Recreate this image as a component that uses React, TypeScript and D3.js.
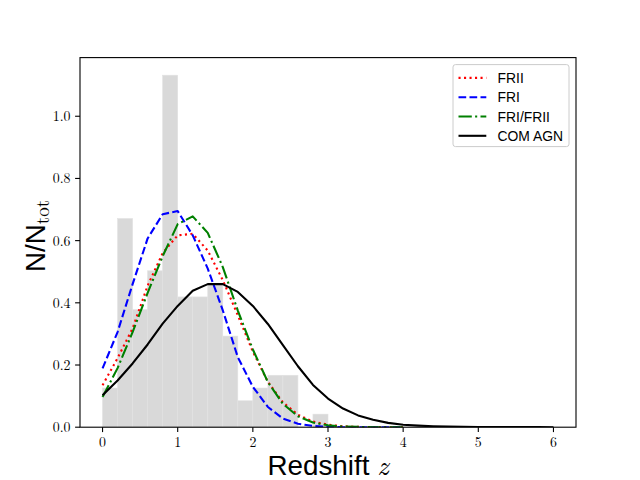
import React from "react";
import { scaleLinear, line } from "d3";

// histogram of the sample, bin width 0.2
const binStarts = [0, 0.2, 0.4, 0.6, 0.8, 1.0, 1.2, 1.4, 1.6, 1.8, 2.0, 2.2, 2.4, 2.6, 2.8];
const binHeights = [0.126, 0.671, 0.378, 0.503, 1.132, 0.419, 0.419, 0.459, 0.293, 0.085, 0.126, 0.167, 0.167, 0, 0.042];
const binWidth = 0.2;

// model curves sampled on the redshift grid
const zModel = [0, 0.2, 0.4, 0.6, 0.8, 1.0, 1.2, 1.4, 1.6, 1.8, 2.0, 2.2, 2.4, 2.6, 2.8, 3.0, 3.2, 3.4, 3.6, 3.8, 4.0];
const friiValues = [0.135, 0.222, 0.318, 0.455, 0.56, 0.617, 0.622, 0.568, 0.473, 0.36, 0.243, 0.146, 0.08, 0.04, 0.018, 0.008, 0.003, 0.001, 0, 0, 0];
const friValues = [0.189, 0.306, 0.46, 0.607, 0.685, 0.695, 0.617, 0.51, 0.376, 0.225, 0.13, 0.065, 0.028, 0.011, 0.004, 0.001, 0, 0, 0, 0, 0];
const mixValues = [0.097, 0.19, 0.306, 0.432, 0.55, 0.653, 0.678, 0.625, 0.515, 0.375, 0.25, 0.145, 0.075, 0.035, 0.015, 0.006, 0.002, 0.001, 0, 0, 0];

const zAgn = [0, 0.2, 0.4, 0.6, 0.8, 1.0, 1.2, 1.4, 1.6, 1.8, 2.0, 2.2, 2.4, 2.6, 2.8, 3.0, 3.2, 3.4, 3.6, 3.8, 4.0, 4.2, 4.4, 4.6, 4.8, 5.0, 5.2, 5.4, 5.6, 5.8, 6.0];
const agnValues = [0.103, 0.15, 0.205, 0.266, 0.333, 0.39, 0.439, 0.46, 0.46, 0.435, 0.39, 0.332, 0.264, 0.196, 0.136, 0.092, 0.06, 0.038, 0.024, 0.014, 0.008, 0.005, 0.003, 0.002, 0.001, 0.0005, 0.0003, 0.0002, 0.0001, 0.0001, 0];

const xTicks = [0, 1, 2, 3, 4, 5, 6];
const yTicks = [0, 0.2, 0.4, 0.6, 0.8, 1.0];

const seriesNames = ["FRII", "FRI", "FRI/FRII", "COM AGN"];
const seriesColors = ["#ff0000", "#0000ff", "#008000", "#000000"];
const seriesDash = ["2.1,3.4", "7.7,3.3", "13.3,3.3,2.1,3.3", "none"];

const W = 640;
const H = 480;
const left = 80;
const right = 576;
const top = 57.6;
const bottom = 427.2;

const serif = "'Latin Modern Roman', 'DejaVu Serif', 'Liberation Serif', serif";
const sans = "'Liberation Sans', Arial, sans-serif";

export default function App() {
  const x = scaleLinear().domain([-0.3, 6.3]).range([left, right]);
  const y = scaleLinear().domain([0, 1.1886]).range([bottom, top]);

  const mk = (zs: number[], vs: number[]) =>
    line<number>()
      .x((_, i) => x(zs[i]))
      .y((v) => y(v))(vs) || "";

  const paths = [
    mk(zModel, friiValues),
    mk(zModel, friValues),
    mk(zModel, mixValues),
    mk(zAgn, agnValues),
  ];

  const legX = 453;
  const legY = 64.6;

  return (
    <svg
      width={W}
      height={H}
      style={{ position: "absolute", left: 0, top: 0, background: "#fff" }}
    >
      <defs>
        <clipPath id="plot">
          <rect x={left} y={top} width={right - left} height={bottom - top} />
        </clipPath>
      </defs>
      <g>
        {binStarts.map((b, i) =>
          binHeights[i] > 0 ? (
            <rect
              key={i}
              x={x(b)}
              y={y(binHeights[i])}
              width={x(b + binWidth) - x(b)}
              height={y(0) - y(binHeights[i])}
              fill="#d9d9d9"
              stroke="#e2e2e2"
              strokeWidth={0.6}
            />
          ) : null
        )}
      </g>
      <g clipPath="url(#plot)" fill="none" strokeWidth={2.1}>
        {paths.map((d, i) => (
          <path
            key={i}
            d={d}
            stroke={seriesColors[i]}
            strokeDasharray={seriesDash[i]}
            strokeLinecap="butt"
            strokeLinejoin="round"
          />
        ))}
      </g>
      {/* axes frame */}
      <rect
        x={left}
        y={top}
        width={right - left}
        height={bottom - top}
        fill="none"
        stroke="#000"
        strokeWidth={1.1}
      />
      {xTicks.map((t) => (
        <g key={t} transform={`translate(${x(t)},${bottom})`}>
          <line y2={4.9} stroke="#000" strokeWidth={1.1} />
          <text
            y={20}
            textAnchor="middle"
            fontFamily={serif}
            fontSize={13.9}
            fill="#000"
          >
            {t}
          </text>
        </g>
      ))}
      {yTicks.map((t) => (
        <g key={t} transform={`translate(${left},${y(t)})`}>
          <line x2={-4.9} stroke="#000" strokeWidth={1.1} />
          <text
            x={-9.5}
            dy="0.35em"
            textAnchor="end"
            fontFamily={serif}
            fontSize={13.9}
            fill="#000"
          >
            {t.toFixed(1)}
          </text>
        </g>
      ))}
      {/* axis labels */}
      <text
        x={(left + right) / 2}
        y={475}
        textAnchor="middle"
        fontFamily={sans}
        fontSize={27.8}
        fill="#000"
      >
        Redshift{" "}
        <tspan fontFamily={serif} fontStyle="italic">
          z
        </tspan>
      </text>
      <text
        transform={`translate(45,236) rotate(-90)`}
        textAnchor="middle"
        fontFamily={sans}
        fontSize={27.8}
        fill="#000"
      >
        N/N
        <tspan fontFamily={serif} fontSize={19} dy={4}>
          tot
        </tspan>
      </text>
      {/* legend */}
      <rect
        x={legX}
        y={legY}
        width={116}
        height={82}
        rx={2.5}
        fill="#fff"
        fillOpacity={0.8}
        stroke="#cccccc"
        strokeWidth={1}
      />
      {seriesNames.map((name, i) => {
        const cy = legY + 13.3 + i * 19.3;
        return (
          <g key={name}>
            <line
              x1={legX + 5.5}
              x2={legX + 33.3}
              y1={cy}
              y2={cy}
              stroke={seriesColors[i]}
              strokeWidth={2.1}
              strokeDasharray={seriesDash[i]}
              strokeLinecap="butt"
            />
            <text
              x={legX + 44.5}
              y={cy}
              dy="0.36em"
              fontFamily={sans}
              fontSize={13.9}
              fill="#000"
            >
              {name}
            </text>
          </g>
        );
      })}
    </svg>
  );
}
